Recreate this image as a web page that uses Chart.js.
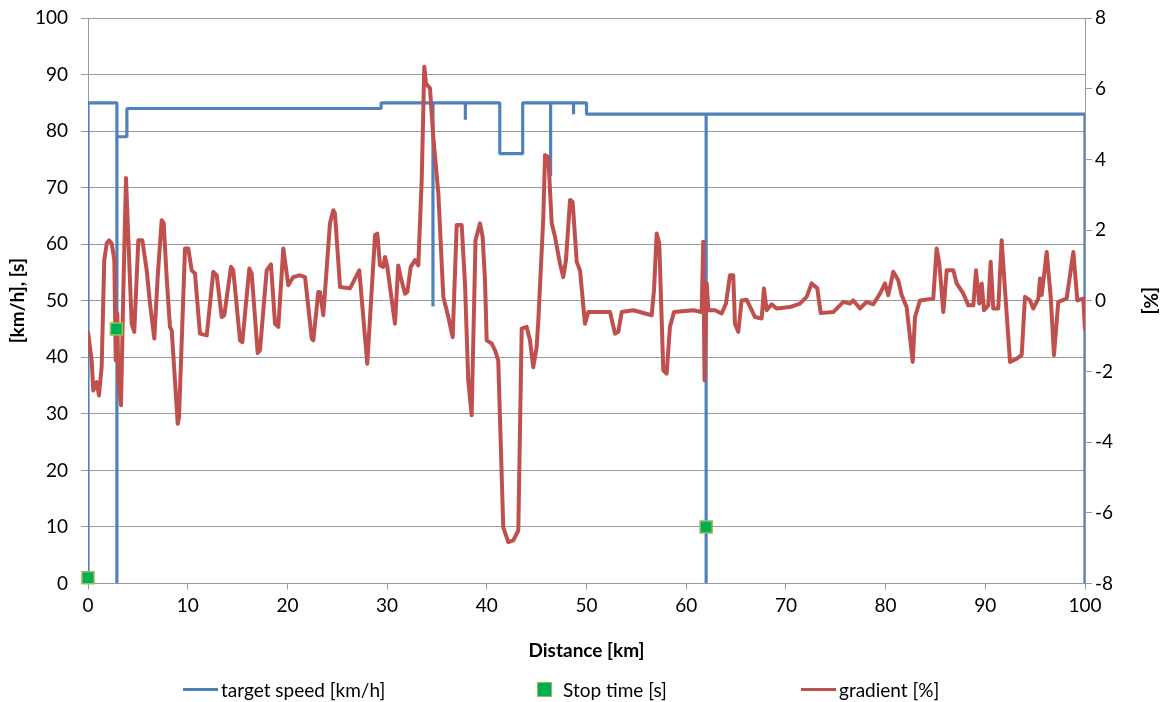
<!DOCTYPE html>
<html>
<head>
<meta charset="utf-8">
<script src="https://cdn.jsdelivr.net/npm/chart.js@4.4.0/dist/chart.umd.min.js"></script>
<style>
html,body{margin:0;padding:0;background:#fff;}
#wrap{position:relative;width:1167px;height:702px;}
canvas{display:block;}
#legend{position:absolute;left:0;top:677px;width:1167px;height:24px;font-family:Lato,'Open Sans',sans-serif;font-size:19px;color:#000;}
.item{position:absolute;top:0;height:24px;display:flex;align-items:center;white-space:nowrap;}
.ln{display:inline-block;width:35px;height:3px;margin-right:3px;}
.sq{display:inline-block;width:13px;height:13px;border:1px solid #9BBB59;margin-right:11px;}
</style>
</head>
<body>
<div id="wrap">
<canvas id="c" width="1167" height="702"></canvas>
<div id="legend"></div>
</div>
<script>
// ---- data ----
const xTicks = [0,10,20,30,40,50,60,70,80,90,100];
const leftTicks = [0,10,20,30,40,50,60,70,80,90,100];
const rightTicks = [-8,-6,-4,-2,0,2,4,6,8];

const speedKm  = [0,0,2.9,2.9,2.9,3.9,3.9,29.4,29.4,34.6,34.6,34.6,37.85,37.85,37.85,41.3,41.3,43.6,43.6,46.4,46.4,46.4,48.7,48.7,48.7,50,50,62,62,62,100,100];
const speedKmh = [0,85,85,0,79,79,84,84,85,85,49,85,85,82,85,85,76,76,85,85,72,85,85,83,85,85,83,83,0,83,83,0];

const stopKm  = [0, 2.85, 62];
const stopSec = [1, 45, 10];

const gradKm = [
0,0.37,0.53,0.87,1.10,1.37,1.63,1.88,2.11,2.38,
2.64,2.78,2.94,3.04,3.31,3.54,3.81,4.04,4.38,4.64,
5.05,5.45,5.89,6.22,6.65,6.99,7.39,7.59,7.89,8.22,
8.40,9.00,9.13,9.73,10.06,10.40,10.73,11.23,11.91,12.57,
12.91,13.41,13.67,14.34,14.57,15.25,15.48,16.18,16.42,17.02,
17.25,17.92,18.35,18.76,19.09,19.59,20.09,20.59,21.26,21.77,
22.44,22.60,23.10,23.27,23.60,24.27,24.60,24.77,25.28,26.28,
26.95,27.21,28.01,28.79,29.02,29.29,29.62,29.79,30.02,30.79,
31.12,31.36,31.80,32.03,32.37,32.80,33.13,33.47,33.73,33.90,
34.30,34.63,35.14,35.64,36.14,36.58,36.98,37.48,37.81,38.14,
38.48,38.87,39.32,39.58,39.82,39.99,40.49,40.82,41.15,41.65,
42.16,42.66,43.16,43.50,44.00,44.33,44.66,45.00,45.17,45.67,
45.84,46.17,46.51,46.84,47.34,47.67,47.94,48.35,48.61,49.02,
49.35,49.85,50.18,52.36,52.86,53.19,53.53,54.70,56.54,56.77,
57.04,57.30,57.70,58.04,58.37,58.78,60.71,61.55,61.71,61.84,
62.06,62.22,62.89,63.56,63.99,64.39,64.72,64.89,65.22,65.56,
66.06,66.90,67.57,67.80,68.07,68.57,69.07,70.41,71.41,72.08,
72.58,73.15,73.49,74.75,75.76,76.43,76.76,77.43,78.10,78.77,
79.44,79.94,80.27,80.77,81.27,81.61,82.11,82.45,82.72,82.95,
83.45,84.78,85.12,85.39,85.79,86.13,86.79,87.13,87.80,88.30,
88.80,89.07,89.40,89.64,89.87,90.30,90.54,90.80,91.30,91.64,
92.14,92.48,93.15,93.65,93.98,94.48,94.81,95.32,95.49,95.66,
96.16,96.56,96.89,97.32,98.16,98.83,99.23,99.83,100
];
const gradPct = [
-0.88,-1.69,-2.54,-2.30,-2.68,-1.87,1.15,1.62,1.71,1.62,
1.15,-1.69,-0.36,-2.16,-2.96,0.21,3.47,1.81,-0.65,-0.88,
1.71,1.71,0.86,-0.08,-1.07,0.67,2.28,2.20,0.67,-0.74,
-0.84,-3.48,-3.29,1.48,1.48,0.86,0.77,-0.93,-0.98,0.82,
0.72,-0.46,-0.41,0.96,0.86,-1.12,-1.17,0.91,0.77,-1.48,
-1.40,0.86,1.03,-0.65,-0.74,1.48,0.44,0.67,0.72,0.67,
-1.07,-1.12,0.25,0.25,-0.41,2.19,2.56,2.47,0.39,0.35,
0.72,0.86,-1.78,1.86,1.90,1.00,0.96,1.24,0.96,-0.65,
1.00,0.67,0.20,0.25,0.96,1.15,1.00,3.41,6.62,6.15,
6.01,4.64,3.04,0.11,-0.46,-1.03,2.14,2.14,0.50,-2.25,
-3.24,1.71,2.19,1.81,0.58,-1.12,-1.21,-1.40,-1.69,-6.41,
-6.83,-6.78,-6.50,-0.79,-0.74,-1.12,-1.88,-1.31,-0.55,2.37,
4.12,4.07,2.19,1.81,1.05,0.67,1.15,2.85,2.80,1.10,
0.86,-0.65,-0.32,-0.32,-0.93,-0.88,-0.32,-0.27,-0.41,0.30,
1.90,1.62,-1.97,-2.06,-0.74,-0.32,-0.27,-0.32,1.67,-2.25,
0.49,-0.27,-0.27,-0.36,-0.08,0.72,0.72,-0.65,-0.88,0.01,
0.03,-0.46,-0.50,0.35,-0.27,-0.10,-0.22,-0.18,-0.08,0.11,
0.49,0.35,-0.35,-0.32,-0.03,-0.08,0.01,-0.22,-0.03,-0.10,
0.20,0.49,0.16,0.82,0.58,0.16,-0.18,-1.03,-1.73,-0.46,
0.01,0.06,1.48,1.05,-0.32,0.86,0.86,0.49,0.20,-0.13,
-0.13,0.86,-0.08,0.49,-0.27,-0.13,1.10,-0.22,-0.22,1.71,
-0.36,-1.73,-1.64,-1.54,0.11,0.01,-0.22,0.06,0.63,0.16,
1.38,0.11,-1.54,-0.03,0.06,1.38,0.01,0.06,-0.84
];

const seriesNames = ['target speed [km/h]', 'Stop time [s]', 'gradient [%]'];
const COL_SPEED = '#4F81BD', COL_STOP = '#00B050', COL_STOP_BORDER = '#9BBB59', COL_GRAD = '#C0504D';
const GRID = '#9a9a9a';
const FONT = 'Lato, "Open Sans", sans-serif';

const toXY = (xs, ys) => xs.map((x, i) => ({x: x, y: ys[i]}));

const chart = new Chart(document.getElementById('c'), {
  type: 'line',
  data: {
    datasets: [
      {
        label: seriesNames[2], data: toXY(gradKm, gradPct), yAxisID: 'y2',
        borderColor: COL_GRAD, borderWidth: 4, pointRadius: 0, tension: 0,
        borderJoinStyle: 'round', order: 1, clip: 0
      },
      {
        label: seriesNames[1], type: 'scatter', data: toXY(stopKm, stopSec), yAxisID: 'y',
        showLine: false, pointStyle: 'rect', pointRadius: 8.5,
        backgroundColor: COL_STOP, borderColor: COL_STOP_BORDER, borderWidth: 1.5, order: 0, clip: false
      },
      {
        label: seriesNames[0], data: toXY(speedKm, speedKmh), yAxisID: 'y',
        borderColor: COL_SPEED, borderWidth: 3.2, pointRadius: 0, tension: 0,
        borderJoinStyle: 'bevel', borderCapStyle: 'butt', order: 2, clip: 0
      }
    ]
  },
  options: {
    responsive: false,
    animation: false,
    layout: {padding: {top: 18, left: 0, right: 0, bottom: 0}},
    plugins: {legend: {display: false}, tooltip: {enabled: false}},
    scales: {
      x: {
        type: 'linear', position: 'bottom', min: 0, max: 100,
        afterBuildTicks: s => { s.ticks = xTicks.map(v => ({value: v})); },
        ticks: {font: {family: FONT, size: 19}, color: '#000', padding: 5, maxRotation: 0, autoSkip: false},
        grid: {drawOnChartArea: false, drawTicks: true, tickLength: 6, color: GRID},
        border: {display: true, color: GRID, width: 1},
        title: {display: true, text: 'Distance [km]', color: '#000',
                font: {family: FONT, size: 19, weight: 'bold'}, padding: {top: 0, bottom: 40}},
        afterFit: s => { s.height = 118.5; s.paddingLeft = 0; s.paddingRight = 0; }
      },
      y: {
        position: 'left', min: 0, max: 100,
        afterBuildTicks: s => { s.ticks = leftTicks.map(v => ({value: v})); },
        ticks: {font: {family: FONT, size: 19}, color: '#000', padding: 13},
        grid: {color: GRID, tickLength: 7, drawTicks: true},
        border: {display: true, color: GRID},
        title: {display: true, text: '[km/h], [s]', color: '#000',
                font: {family: FONT, size: 19, weight: 'bold'}, padding: {top: 6, bottom: 0}},
        afterFit: s => { s.width = 88; s.paddingTop = 0; s.paddingBottom = 0; }
      },
      y2: {
        position: 'right', min: -8, max: 8,
        afterBuildTicks: s => { s.ticks = rightTicks.map(v => ({value: v})); },
        ticks: {font: {family: FONT, size: 19}, color: '#000', padding: 3, crossAlign: 'near'},
        grid: {drawOnChartArea: false, drawTicks: true, tickLength: 7, color: GRID},
        border: {display: true, color: GRID},
        title: {display: true, text: '[%]', color: '#000',
                font: {family: FONT, size: 19, weight: 'bold'}, padding: {top: 5, bottom: 0}},
        afterFit: s => { s.width = 82; s.paddingTop = 0; s.paddingBottom = 0; }
      }
    }
  }
});

// HTML legend built from datasets
const legendPos = {'target speed [km/h]': 183, 'Stop time [s]': 537, 'gradient [%]': 801};
const lg = document.getElementById('legend');
chart.data.datasets.slice().sort((a, b) => legendPos[a.label] - legendPos[b.label]).forEach(ds => {
  const it = document.createElement('div');
  it.className = 'item';
  it.style.left = legendPos[ds.label] + 'px';
  const mk = document.createElement('span');
  if (ds.type === 'scatter') {
    mk.className = 'sq'; mk.style.background = ds.backgroundColor;
  } else {
    mk.className = 'ln'; mk.style.background = ds.borderColor;
  }
  it.appendChild(mk);
  const tx = document.createElement('span');
  tx.textContent = ds.label;
  it.appendChild(tx);
  lg.appendChild(it);
});
</script>
</body>
</html>
